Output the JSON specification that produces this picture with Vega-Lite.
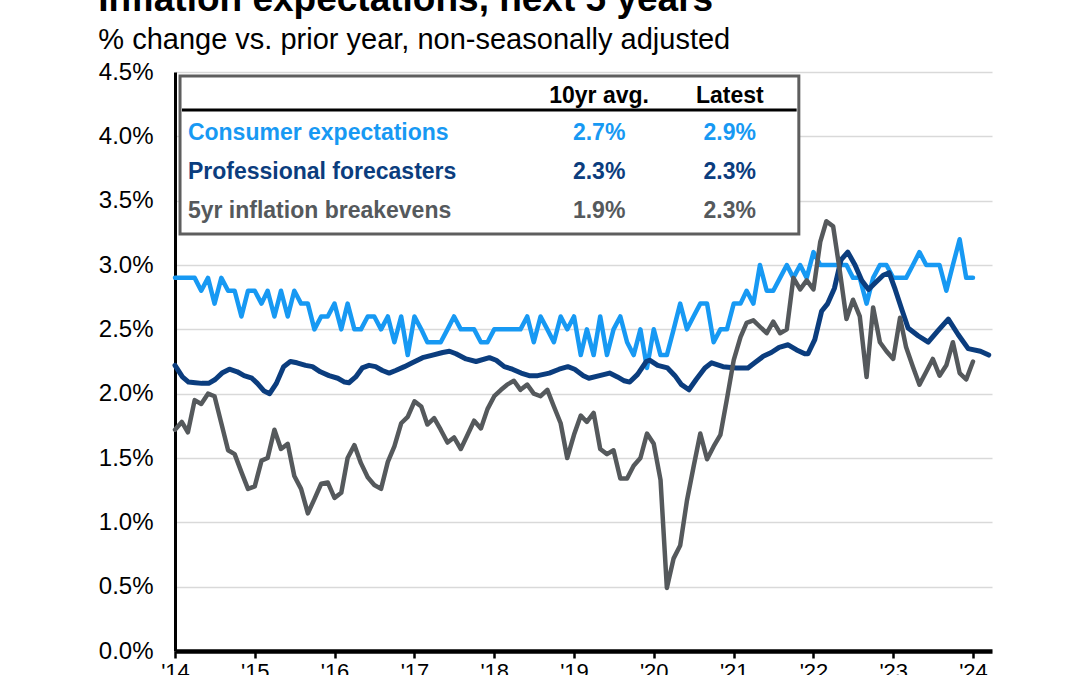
{
  "$schema": "https://vega.github.io/schema/vega-lite/v6.json",
  "width": 817,
  "height": 579,
  "autosize": "none",
  "padding": {"left": 175, "top": 72, "right": 88, "bottom": 24},
  "background": "white",
  "title": {
    "text": "Inflation expectations, next 5 years",
    "subtitle": "% change vs. prior year, non-seasonally adjusted",
    "anchor": "start",
    "frame": "bounds",
    "font": "Liberation Sans",
    "fontSize": 37,
    "fontWeight": "bold",
    "color": "black",
    "subtitleFont": "Liberation Sans",
    "subtitleFontSize": 29,
    "subtitleColor": "black",
    "subtitlePadding": 7,
    "offset": 4
  },
  "config": {"view": {"stroke": null}, "font": "Liberation Sans"},
  "datasets": {
    "monthly": [
      {"date": "2014-01-01", "consumer": 2.9, "breakevens": 1.72},
      {"date": "2014-02-01", "consumer": 2.9, "breakevens": 1.78},
      {"date": "2014-03-01", "consumer": 2.9, "breakevens": 1.70},
      {"date": "2014-04-01", "consumer": 2.9, "breakevens": 1.95},
      {"date": "2014-05-01", "consumer": 2.8, "breakevens": 1.92},
      {"date": "2014-06-01", "consumer": 2.9, "breakevens": 2.00},
      {"date": "2014-07-01", "consumer": 2.7, "breakevens": 1.98},
      {"date": "2014-08-01", "consumer": 2.9, "breakevens": 1.77},
      {"date": "2014-09-01", "consumer": 2.8, "breakevens": 1.56},
      {"date": "2014-10-01", "consumer": 2.8, "breakevens": 1.53},
      {"date": "2014-11-01", "consumer": 2.6, "breakevens": 1.39},
      {"date": "2014-12-01", "consumer": 2.8, "breakevens": 1.26},
      {"date": "2015-01-01", "consumer": 2.8, "breakevens": 1.28},
      {"date": "2015-02-01", "consumer": 2.7, "breakevens": 1.48},
      {"date": "2015-03-01", "consumer": 2.8, "breakevens": 1.50},
      {"date": "2015-04-01", "consumer": 2.6, "breakevens": 1.72},
      {"date": "2015-05-01", "consumer": 2.8, "breakevens": 1.57},
      {"date": "2015-06-01", "consumer": 2.6, "breakevens": 1.61},
      {"date": "2015-07-01", "consumer": 2.8, "breakevens": 1.36},
      {"date": "2015-08-01", "consumer": 2.7, "breakevens": 1.26},
      {"date": "2015-09-01", "consumer": 2.7, "breakevens": 1.07},
      {"date": "2015-10-01", "consumer": 2.5, "breakevens": 1.18},
      {"date": "2015-11-01", "consumer": 2.6, "breakevens": 1.30},
      {"date": "2015-12-01", "consumer": 2.6, "breakevens": 1.31},
      {"date": "2016-01-01", "consumer": 2.7, "breakevens": 1.19},
      {"date": "2016-02-01", "consumer": 2.5, "breakevens": 1.23},
      {"date": "2016-03-01", "consumer": 2.7, "breakevens": 1.50},
      {"date": "2016-04-01", "consumer": 2.5, "breakevens": 1.60},
      {"date": "2016-05-01", "consumer": 2.5, "breakevens": 1.46},
      {"date": "2016-06-01", "consumer": 2.6, "breakevens": 1.35},
      {"date": "2016-07-01", "consumer": 2.6, "breakevens": 1.29},
      {"date": "2016-08-01", "consumer": 2.5, "breakevens": 1.26},
      {"date": "2016-09-01", "consumer": 2.6, "breakevens": 1.47},
      {"date": "2016-10-01", "consumer": 2.4, "breakevens": 1.59},
      {"date": "2016-11-01", "consumer": 2.6, "breakevens": 1.77},
      {"date": "2016-12-01", "consumer": 2.3, "breakevens": 1.82},
      {"date": "2017-01-01", "consumer": 2.6, "breakevens": 1.94},
      {"date": "2017-02-01", "consumer": 2.5, "breakevens": 1.90},
      {"date": "2017-03-01", "consumer": 2.4, "breakevens": 1.76},
      {"date": "2017-04-01", "consumer": 2.4, "breakevens": 1.81},
      {"date": "2017-05-01", "consumer": 2.4, "breakevens": 1.72},
      {"date": "2017-06-01", "consumer": 2.5, "breakevens": 1.62},
      {"date": "2017-07-01", "consumer": 2.6, "breakevens": 1.66},
      {"date": "2017-08-01", "consumer": 2.5, "breakevens": 1.57},
      {"date": "2017-09-01", "consumer": 2.5, "breakevens": 1.68},
      {"date": "2017-10-01", "consumer": 2.5, "breakevens": 1.79},
      {"date": "2017-11-01", "consumer": 2.4, "breakevens": 1.73},
      {"date": "2017-12-01", "consumer": 2.4, "breakevens": 1.88},
      {"date": "2018-01-01", "consumer": 2.5, "breakevens": 1.98},
      {"date": "2018-02-01", "consumer": 2.5, "breakevens": 2.03},
      {"date": "2018-03-01", "consumer": 2.5, "breakevens": 2.07},
      {"date": "2018-04-01", "consumer": 2.5, "breakevens": 2.10},
      {"date": "2018-05-01", "consumer": 2.5, "breakevens": 2.03},
      {"date": "2018-06-01", "consumer": 2.6, "breakevens": 2.07},
      {"date": "2018-07-01", "consumer": 2.4, "breakevens": 2.00},
      {"date": "2018-08-01", "consumer": 2.6, "breakevens": 1.98},
      {"date": "2018-09-01", "consumer": 2.5, "breakevens": 2.03},
      {"date": "2018-10-01", "consumer": 2.4, "breakevens": 1.90},
      {"date": "2018-11-01", "consumer": 2.6, "breakevens": 1.77},
      {"date": "2018-12-01", "consumer": 2.5, "breakevens": 1.50},
      {"date": "2019-01-01", "consumer": 2.6, "breakevens": 1.68},
      {"date": "2019-02-01", "consumer": 2.3, "breakevens": 1.83},
      {"date": "2019-03-01", "consumer": 2.5, "breakevens": 1.78},
      {"date": "2019-04-01", "consumer": 2.3, "breakevens": 1.85},
      {"date": "2019-05-01", "consumer": 2.6, "breakevens": 1.57},
      {"date": "2019-06-01", "consumer": 2.3, "breakevens": 1.53},
      {"date": "2019-07-01", "consumer": 2.5, "breakevens": 1.56},
      {"date": "2019-08-01", "consumer": 2.6, "breakevens": 1.34},
      {"date": "2019-09-01", "consumer": 2.4, "breakevens": 1.34},
      {"date": "2019-10-01", "consumer": 2.3, "breakevens": 1.44},
      {"date": "2019-11-01", "consumer": 2.5, "breakevens": 1.50},
      {"date": "2019-12-01", "consumer": 2.2, "breakevens": 1.69},
      {"date": "2020-01-01", "consumer": 2.5, "breakevens": 1.61},
      {"date": "2020-02-01", "consumer": 2.3, "breakevens": 1.33},
      {"date": "2020-03-01", "consumer": 2.3, "breakevens": 0.49},
      {"date": "2020-04-01", "consumer": 2.5, "breakevens": 0.72},
      {"date": "2020-05-01", "consumer": 2.7, "breakevens": 0.82},
      {"date": "2020-06-01", "consumer": 2.5, "breakevens": 1.17},
      {"date": "2020-07-01", "consumer": 2.6, "breakevens": 1.43},
      {"date": "2020-08-01", "consumer": 2.7, "breakevens": 1.69},
      {"date": "2020-09-01", "consumer": 2.7, "breakevens": 1.49},
      {"date": "2020-10-01", "consumer": 2.4, "breakevens": 1.59},
      {"date": "2020-11-01", "consumer": 2.5, "breakevens": 1.68},
      {"date": "2020-12-01", "consumer": 2.5, "breakevens": 1.96},
      {"date": "2021-01-01", "consumer": 2.7, "breakevens": 2.26},
      {"date": "2021-02-01", "consumer": 2.7, "breakevens": 2.44},
      {"date": "2021-03-01", "consumer": 2.8, "breakevens": 2.55},
      {"date": "2021-04-01", "consumer": 2.7, "breakevens": 2.57},
      {"date": "2021-05-01", "consumer": 3.0, "breakevens": 2.52},
      {"date": "2021-06-01", "consumer": 2.8, "breakevens": 2.47},
      {"date": "2021-07-01", "consumer": 2.8, "breakevens": 2.56},
      {"date": "2021-08-01", "consumer": 2.9, "breakevens": 2.47},
      {"date": "2021-09-01", "consumer": 3.0, "breakevens": 2.50},
      {"date": "2021-10-01", "consumer": 2.9, "breakevens": 2.90},
      {"date": "2021-11-01", "consumer": 3.0, "breakevens": 2.81},
      {"date": "2021-12-01", "consumer": 2.9, "breakevens": 2.88},
      {"date": "2022-01-01", "consumer": 3.1, "breakevens": 2.81},
      {"date": "2022-02-01", "consumer": 3.0, "breakevens": 3.18},
      {"date": "2022-03-01", "consumer": 3.0, "breakevens": 3.34},
      {"date": "2022-04-01", "consumer": 3.0, "breakevens": 3.30},
      {"date": "2022-05-01", "consumer": 3.0, "breakevens": 2.96},
      {"date": "2022-06-01", "consumer": 3.0, "breakevens": 2.58},
      {"date": "2022-07-01", "consumer": 2.9, "breakevens": 2.73},
      {"date": "2022-08-01", "consumer": 2.9, "breakevens": 2.60},
      {"date": "2022-09-01", "consumer": 2.7, "breakevens": 2.13},
      {"date": "2022-10-01", "consumer": 2.9, "breakevens": 2.67},
      {"date": "2022-11-01", "consumer": 3.0, "breakevens": 2.40},
      {"date": "2022-12-01", "consumer": 3.0, "breakevens": 2.33},
      {"date": "2023-01-01", "consumer": 2.9, "breakevens": 2.27},
      {"date": "2023-02-01", "consumer": 2.9, "breakevens": 2.59},
      {"date": "2023-03-01", "consumer": 2.9, "breakevens": 2.36},
      {"date": "2023-04-01", "consumer": 3.0, "breakevens": 2.21},
      {"date": "2023-05-01", "consumer": 3.1, "breakevens": 2.07},
      {"date": "2023-06-01", "consumer": 3.0, "breakevens": 2.17},
      {"date": "2023-07-01", "consumer": 3.0, "breakevens": 2.27},
      {"date": "2023-08-01", "consumer": 3.0, "breakevens": 2.14},
      {"date": "2023-09-01", "consumer": 2.8, "breakevens": 2.22},
      {"date": "2023-10-01", "consumer": 3.0, "breakevens": 2.40},
      {"date": "2023-11-01", "consumer": 3.2, "breakevens": 2.16},
      {"date": "2023-12-01", "consumer": 2.9, "breakevens": 2.11},
      {"date": "2024-01-01", "consumer": 2.9, "breakevens": 2.25}
    ],
    "professional": [
      {"date": "2014-01-01", "value": 2.22},
      {"date": "2014-02-04", "value": 2.13},
      {"date": "2014-03-04", "value": 2.09},
      {"date": "2014-04-04", "value": 2.085},
      {"date": "2014-05-04", "value": 2.08},
      {"date": "2014-06-04", "value": 2.08},
      {"date": "2014-07-04", "value": 2.11},
      {"date": "2014-08-04", "value": 2.16},
      {"date": "2014-09-07", "value": 2.19},
      {"date": "2014-10-13", "value": 2.17},
      {"date": "2014-11-13", "value": 2.14},
      {"date": "2014-12-19", "value": 2.12},
      {"date": "2015-01-13", "value": 2.08},
      {"date": "2015-02-13", "value": 2.02},
      {"date": "2015-03-10", "value": 2.00},
      {"date": "2015-04-10", "value": 2.08},
      {"date": "2015-05-13", "value": 2.21},
      {"date": "2015-06-13", "value": 2.25},
      {"date": "2015-07-13", "value": 2.24},
      {"date": "2015-08-22", "value": 2.22},
      {"date": "2015-09-22", "value": 2.21},
      {"date": "2015-10-28", "value": 2.17},
      {"date": "2015-12-07", "value": 2.14},
      {"date": "2016-01-16", "value": 2.12},
      {"date": "2016-02-16", "value": 2.09},
      {"date": "2016-03-07", "value": 2.085},
      {"date": "2016-04-07", "value": 2.13},
      {"date": "2016-05-07", "value": 2.20},
      {"date": "2016-06-07", "value": 2.22},
      {"date": "2016-07-07", "value": 2.21},
      {"date": "2016-08-07", "value": 2.18},
      {"date": "2016-09-07", "value": 2.16},
      {"date": "2016-10-07", "value": 2.18},
      {"date": "2016-11-16", "value": 2.21},
      {"date": "2016-12-22", "value": 2.24},
      {"date": "2017-02-07", "value": 2.28},
      {"date": "2017-03-25", "value": 2.30},
      {"date": "2017-05-10", "value": 2.32},
      {"date": "2017-06-10", "value": 2.33},
      {"date": "2017-07-10", "value": 2.31},
      {"date": "2017-08-25", "value": 2.27},
      {"date": "2017-10-10", "value": 2.25},
      {"date": "2017-12-10", "value": 2.28},
      {"date": "2018-01-10", "value": 2.26},
      {"date": "2018-02-16", "value": 2.21},
      {"date": "2018-03-25", "value": 2.19},
      {"date": "2018-05-04", "value": 2.16},
      {"date": "2018-06-10", "value": 2.14},
      {"date": "2018-07-19", "value": 2.14},
      {"date": "2018-09-10", "value": 2.16},
      {"date": "2018-10-25", "value": 2.19},
      {"date": "2018-12-04", "value": 2.21},
      {"date": "2019-01-04", "value": 2.19},
      {"date": "2019-02-13", "value": 2.14},
      {"date": "2019-03-10", "value": 2.12},
      {"date": "2019-04-28", "value": 2.14},
      {"date": "2019-06-13", "value": 2.16},
      {"date": "2019-07-19", "value": 2.13},
      {"date": "2019-08-19", "value": 2.10},
      {"date": "2019-09-13", "value": 2.09},
      {"date": "2019-10-19", "value": 2.15},
      {"date": "2019-11-28", "value": 2.25},
      {"date": "2019-12-13", "value": 2.26},
      {"date": "2020-01-19", "value": 2.22},
      {"date": "2020-03-04", "value": 2.20},
      {"date": "2020-04-07", "value": 2.14},
      {"date": "2020-05-07", "value": 2.07},
      {"date": "2020-06-10", "value": 2.03},
      {"date": "2020-07-13", "value": 2.11},
      {"date": "2020-08-22", "value": 2.20},
      {"date": "2020-09-22", "value": 2.24},
      {"date": "2020-11-13", "value": 2.21},
      {"date": "2021-01-13", "value": 2.20},
      {"date": "2021-03-07", "value": 2.20},
      {"date": "2021-04-07", "value": 2.24},
      {"date": "2021-05-16", "value": 2.29},
      {"date": "2021-06-22", "value": 2.32},
      {"date": "2021-07-28", "value": 2.36},
      {"date": "2021-09-07", "value": 2.38},
      {"date": "2021-10-16", "value": 2.34},
      {"date": "2021-11-22", "value": 2.31},
      {"date": "2021-12-07", "value": 2.31},
      {"date": "2022-01-07", "value": 2.42},
      {"date": "2022-02-07", "value": 2.64},
      {"date": "2022-03-07", "value": 2.70},
      {"date": "2022-04-07", "value": 2.82},
      {"date": "2022-05-07", "value": 3.04},
      {"date": "2022-06-07", "value": 3.10},
      {"date": "2022-07-10", "value": 3.00},
      {"date": "2022-08-10", "value": 2.88},
      {"date": "2022-09-10", "value": 2.81},
      {"date": "2022-10-10", "value": 2.86},
      {"date": "2022-11-16", "value": 2.92},
      {"date": "2022-12-13", "value": 2.94},
      {"date": "2023-01-10", "value": 2.81},
      {"date": "2023-02-10", "value": 2.65},
      {"date": "2023-03-10", "value": 2.51},
      {"date": "2023-04-25", "value": 2.45},
      {"date": "2023-06-10", "value": 2.40},
      {"date": "2023-07-25", "value": 2.49},
      {"date": "2023-09-10", "value": 2.58},
      {"date": "2023-10-25", "value": 2.46},
      {"date": "2023-12-10", "value": 2.35},
      {"date": "2024-02-04", "value": 2.33},
      {"date": "2024-03-13", "value": 2.30}
    ],
    "table": [
      {"row": 1, "series": "Consumer expectations", "avg": "2.7%", "latest": "2.9%"},
      {"row": 2, "series": "Professional forecasters", "avg": "2.3%", "latest": "2.3%"},
      {"row": 3, "series": "5yr inflation breakevens", "avg": "1.9%", "latest": "2.3%"}
    ],
    "header": [
      {"avg": "10yr avg.", "latest": "Latest"}
    ]
  },
  "layer": [
    {
      "layer": [
        {
          "data": {"name": "monthly"},
          "mark": {"type": "line", "color": "#1799F3", "strokeWidth": 4.5, "strokeJoin": "round", "strokeCap": "round"},
          "encoding": {
            "x": {
              "field": "date", "type": "temporal", "title": null,
              "scale": {"type": "utc", "domain": [{"year": 2014, "month": 1, "date": 1, "utc": true}, {"year": 2024, "month": 3, "date": 28, "utc": true}]},
              "axis": {
                "values": [
                  {"year": 2014, "month": 1, "date": 1, "utc": true},
                  {"year": 2015, "month": 1, "date": 1, "utc": true},
                  {"year": 2016, "month": 1, "date": 1, "utc": true},
                  {"year": 2017, "month": 1, "date": 1, "utc": true},
                  {"year": 2018, "month": 1, "date": 1, "utc": true},
                  {"year": 2019, "month": 1, "date": 1, "utc": true},
                  {"year": 2020, "month": 1, "date": 1, "utc": true},
                  {"year": 2021, "month": 1, "date": 1, "utc": true},
                  {"year": 2022, "month": 1, "date": 1, "utc": true},
                  {"year": 2023, "month": 1, "date": 1, "utc": true},
                  {"year": 2024, "month": 1, "date": 1, "utc": true}
                ],
                "labelExpr": "\"'\" + utcFormat(datum.value, '%y')",
                "grid": false,
                "domainColor": "black",
                "domainWidth": 4.5,
                "tickColor": "black",
                "tickWidth": 2.5,
                "tickSize": 7,
                "labelFont": "Liberation Sans",
                "labelFontSize": 22,
                "labelColor": "black",
                "labelPadding": 3,
                "labelAlign": "center",
                "labelBaseline": "top",
                "labelFlush": false,
                "labelOverlap": false
              }
            },
            "y": {
              "field": "consumer", "type": "quantitative", "title": null,
              "scale": {"domain": [0, 4.5], "nice": false, "zero": true},
              "axis": {
                "values": [0, 0.5, 1, 1.5, 2, 2.5, 3, 3.5, 4, 4.5],
                "labelExpr": "format(datum.value, '.1f') + '%'",
                "grid": true,
                "gridColor": "#d9d9d9",
                "gridWidth": 1.5,
                "domainColor": "black",
                "domainWidth": 3,
                "ticks": false,
                "labelPadding": 22,
                "labelFont": "Liberation Sans",
                "labelFontSize": 24,
                "labelColor": "black"
              }
            }
          }
        },
        {
          "data": {"name": "professional"},
          "mark": {"type": "line", "color": "#0B3D7E", "strokeWidth": 5, "strokeJoin": "round", "strokeCap": "round"},
          "encoding": {
            "x": {"field": "date", "type": "temporal", "title": null},
            "y": {"field": "value", "type": "quantitative", "title": null}
          }
        },
        {
          "data": {"name": "monthly"},
          "mark": {"type": "line", "color": "#55595C", "strokeWidth": 4.5, "strokeJoin": "round", "strokeCap": "round"},
          "encoding": {
            "x": {"field": "date", "type": "temporal", "title": null},
            "y": {"field": "breakevens", "type": "quantitative", "title": null}
          }
        }
      ]
    },
    {
      "layer": [
        {
          "data": {"values": [{}]},
          "mark": {"type": "rect", "fill": "white", "stroke": "#5e5e5e", "strokeWidth": 3},
          "encoding": {
            "x": {"datum": {"year": 2014, "month": 1, "date": 24, "utc": true}, "type": "temporal", "title": null},
            "x2": {"datum": {"year": 2021, "month": 10, "date": 26, "utc": true}},
            "y": {"datum": -0.494, "type": "quantitative", "title": null, "axis": null,
                  "scale": {"domain": [-0.597, 14.44], "reverse": true, "nice": false, "zero": false}},
            "y2": {"datum": 3.61}
          }
        },
        {
          "data": {"values": [{}]},
          "mark": {"type": "rule", "color": "black", "strokeWidth": 3},
          "encoding": {
            "x": {"datum": {"year": 2014, "month": 2, "date": 2, "utc": true}, "type": "temporal", "title": null},
            "x2": {"datum": {"year": 2021, "month": 10, "date": 16, "utc": true}},
            "y": {"datum": 0.39, "type": "quantitative", "title": null, "axis": null}
          }
        },
        {
          "data": {"name": "table"},
          "mark": {"type": "text", "align": "left", "baseline": "middle", "font": "Liberation Sans", "fontSize": 23, "fontWeight": "bold"},
          "encoding": {
            "x": {"datum": {"year": 2014, "month": 3, "date": 1, "utc": true}, "type": "temporal", "title": null},
            "y": {"field": "row", "type": "quantitative", "title": null, "axis": null},
            "text": {"field": "series"},
            "color": {"field": "series", "type": "nominal", "legend": null,
                      "scale": {"domain": ["Consumer expectations", "Professional forecasters", "5yr inflation breakevens"], "range": ["#1799F3", "#0B3D7E", "#55595C"]}}
          }
        },
        {
          "data": {"name": "table"},
          "mark": {"type": "text", "align": "center", "baseline": "middle", "font": "Liberation Sans", "fontSize": 23, "fontWeight": "bold"},
          "encoding": {
            "x": {"datum": {"year": 2019, "month": 4, "date": 26, "utc": true}, "type": "temporal", "title": null},
            "y": {"field": "row", "type": "quantitative", "title": null, "axis": null},
            "text": {"field": "avg"},
            "color": {"field": "series", "type": "nominal", "legend": null}
          }
        },
        {
          "data": {"name": "table"},
          "mark": {"type": "text", "align": "center", "baseline": "middle", "font": "Liberation Sans", "fontSize": 23, "fontWeight": "bold"},
          "encoding": {
            "x": {"datum": {"year": 2020, "month": 12, "date": 14, "utc": true}, "type": "temporal", "title": null},
            "y": {"field": "row", "type": "quantitative", "title": null, "axis": null},
            "text": {"field": "latest"},
            "color": {"field": "series", "type": "nominal", "legend": null}
          }
        },
        {
          "data": {"name": "header"},
          "mark": {"type": "text", "align": "center", "baseline": "middle", "font": "Liberation Sans", "fontSize": 23, "fontWeight": "bold", "color": "black"},
          "encoding": {
            "x": {"datum": {"year": 2019, "month": 4, "date": 26, "utc": true}, "type": "temporal", "title": null},
            "y": {"datum": 0.03, "type": "quantitative", "title": null, "axis": null},
            "text": {"field": "avg"}
          }
        },
        {
          "data": {"name": "header"},
          "mark": {"type": "text", "align": "center", "baseline": "middle", "font": "Liberation Sans", "fontSize": 23, "fontWeight": "bold", "color": "black"},
          "encoding": {
            "x": {"datum": {"year": 2020, "month": 12, "date": 14, "utc": true}, "type": "temporal", "title": null},
            "y": {"datum": 0.03, "type": "quantitative", "title": null, "axis": null},
            "text": {"field": "latest"}
          }
        }
      ]
    }
  ],
  "resolve": {"scale": {"y": "independent"}}
}
